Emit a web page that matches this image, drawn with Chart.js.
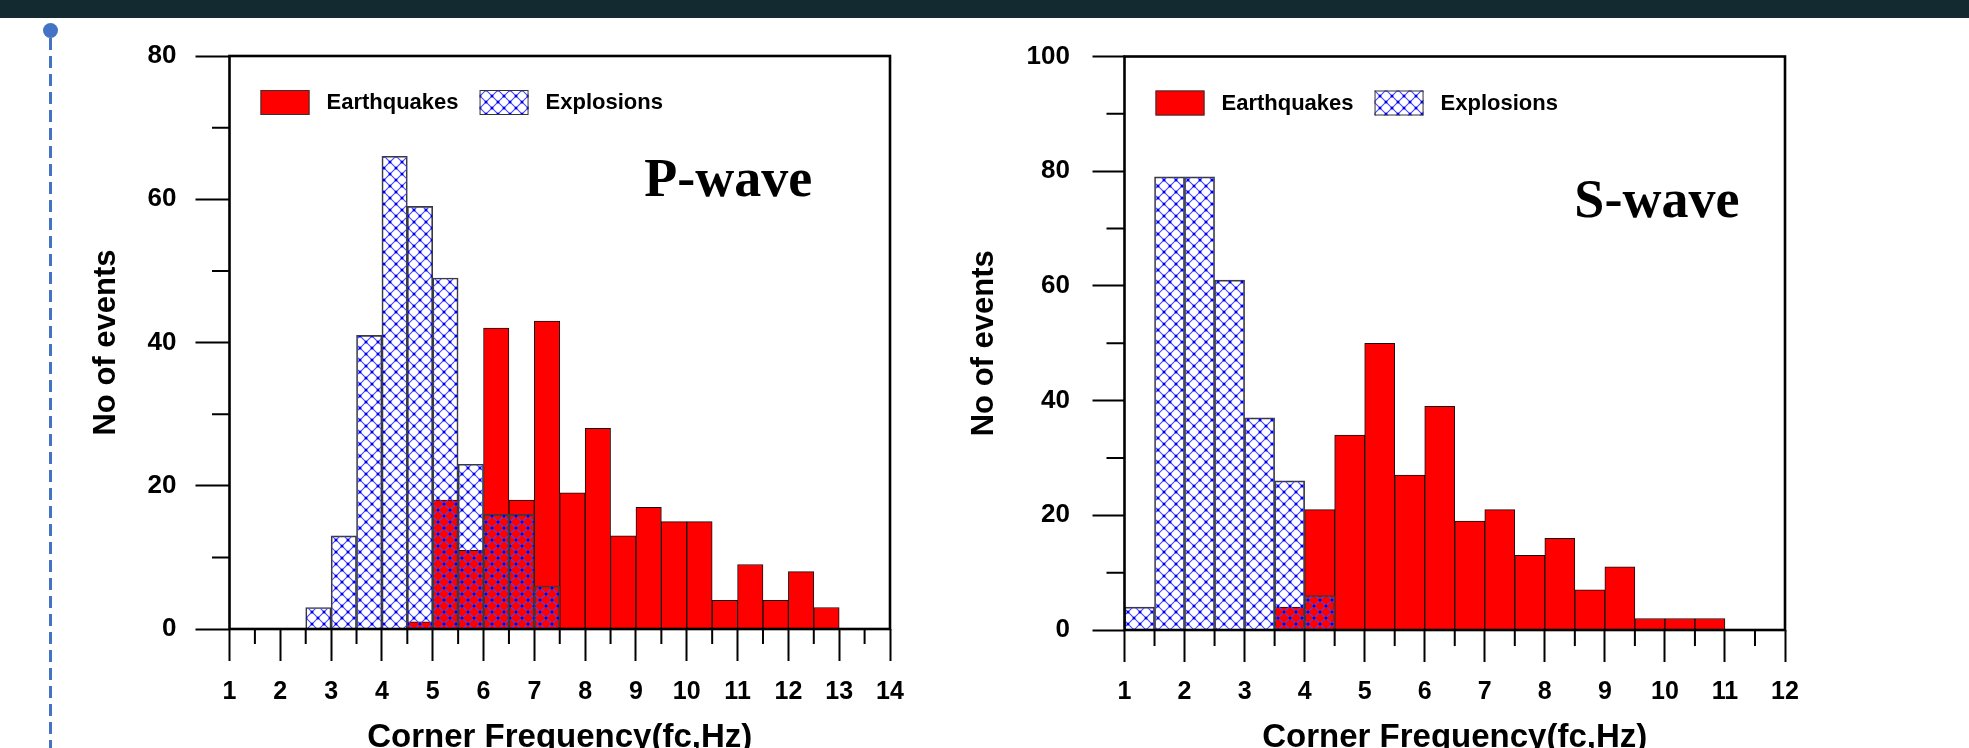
<!DOCTYPE html>
<html>
<head>
<meta charset="utf-8">
<title>Corner frequency histograms</title>
<script src="https://cdn.jsdelivr.net/npm/chart.js@4.4.1/dist/chart.umd.min.js"></script>
<style>
  html, body { margin: 0; padding: 0; background: #ffffff; width: 1969px; height: 748px; overflow: hidden; }
  #topbar { position: absolute; left: 0; top: 0; width: 1969px; height: 18px; background: #132a30; }
  #dot { position: absolute; left: 42.5px; top: 22.5px; width: 15px; height: 15px; border-radius: 50%; background: #4472c4; }
  #rail { position: absolute; left: 49px; top: 38px; width: 2.5px; height: 720px;
          background: repeating-linear-gradient(to bottom, #4472c4 0 12px, transparent 12px 18px); }
  .panel { position: absolute; top: 0; }
  #panelP { left: 0; }
  #panelS { left: 960px; }
</style>
</head>
<body>
<div id="topbar"></div>
<div id="dot"></div>
<div id="rail"></div>
<canvas id="panelP" class="panel" width="960" height="790"></canvas>
<canvas id="panelS" class="panel" width="1009" height="790"></canvas>
<script>
// ---- P-wave: 0.5 Hz bins, lower edges from 1.0 to 13.5 Hz ----
const pBinStarts = [1.0, 1.5, 2.0, 2.5, 3.0, 3.5, 4.0, 4.5, 5.0, 5.5, 6.0, 6.5, 7.0,
                    7.5, 8.0, 8.5, 9.0, 9.5, 10.0, 10.5, 11.0, 11.5, 12.0, 12.5, 13.0, 13.5];
const pEarthquakes = [0, 0, 0, 0, 0, 0, 0, 1, 18, 11, 42, 18, 43,
                      19, 28, 13, 17, 15, 15, 4, 9, 4, 8, 3, 0, 0];
const pExplosions  = [0, 0, 0, 3, 13, 41, 66, 59, 49, 23, 16, 16, 6,
                      0, 0, 0, 0, 0, 0, 0, 0, 0, 0, 0, 0, 0];
const pXTicks = [1, 2, 3, 4, 5, 6, 7, 8, 9, 10, 11, 12, 13, 14];
const pYTicks = [0, 20, 40, 60, 80];

// ---- S-wave: 0.5 Hz bins, lower edges from 1.0 to 11.5 Hz ----
const sBinStarts = [1.0, 1.5, 2.0, 2.5, 3.0, 3.5, 4.0, 4.5, 5.0, 5.5, 6.0,
                    6.5, 7.0, 7.5, 8.0, 8.5, 9.0, 9.5, 10.0, 10.5, 11.0, 11.5];
const sEarthquakes = [0, 0, 0, 0, 0, 4, 21, 34, 50, 27, 39,
                      19, 21, 13, 16, 7, 11, 2, 2, 2, 0, 0];
const sExplosions  = [4, 79, 79, 61, 37, 26, 6, 0, 0, 0, 0,
                      0, 0, 0, 0, 0, 0, 0, 0, 0, 0, 0];
const sXTicks = [1, 2, 3, 4, 5, 6, 7, 8, 9, 10, 11, 12];
const sYTicks = [0, 20, 40, 60, 80, 100];

const BIN_WIDTH = 0.5;
const SANS = "'Liberation Sans', Arial, sans-serif";
const SERIF = "'Liberation Serif', 'Times New Roman', serif";

// Blue cross-hatch used for the explosion bars
function makeCrossHatch() {
  const s = 12;
  const c = document.createElement('canvas');
  c.width = s; c.height = s;
  const g = c.getContext('2d');
  g.strokeStyle = '#4646ff';
  g.lineWidth = 1.1;
  g.beginPath();
  g.moveTo(0, 0); g.lineTo(s, s);
  g.moveTo(s, 0); g.lineTo(0, s);
  g.stroke();
  g.fillStyle = '#0000e6';
  const dots = [[s / 2, s / 2], [0, 0], [s, 0], [0, s], [s, s]];
  dots.forEach(([x, y]) => { g.beginPath(); g.arc(x, y, 1.5, 0, Math.PI * 2); g.fill(); });
  return g.createPattern(c, 'repeat');
}
const hatch = makeCrossHatch();

function toPoints(starts, counts) {
  return starts.map((x0, i) => ({ x: x0 + BIN_WIDTH / 2, y: counts[i] === 0 ? null : counts[i] }));
}

// Frame, minor ticks, inset legend and panel caption
const panelDecor = {
  id: 'panelDecor',
  afterDatasetsDraw(chart, args, o) {
    const { ctx, chartArea: a, scales } = chart;
    ctx.save();
    // minor ticks
    ctx.strokeStyle = '#000';
    ctx.lineWidth = 2;
    ctx.beginPath();
    scales.x.ticks.forEach(t => {
      if (o.xMajor.includes(t.value)) return;
      const px = scales.x.getPixelForValue(t.value);
      ctx.moveTo(px, a.bottom); ctx.lineTo(px, a.bottom + o.xMinorLen);
    });
    scales.y.ticks.forEach(t => {
      if (o.yMajor.includes(t.value)) return;
      const py = scales.y.getPixelForValue(t.value);
      ctx.moveTo(a.left - o.yMinorLen, py); ctx.lineTo(a.left, py);
    });
    ctx.stroke();
    // plot frame
    ctx.lineWidth = 2.6;
    ctx.strokeRect(a.left, a.top, a.right - a.left, a.bottom - a.top);
    // legend inside the frame
    let x = a.left + o.legendDx;
    const top = a.top + o.legendDy;
    ctx.font = 'bold 22px ' + SANS;
    ctx.textBaseline = 'middle';
    ctx.textAlign = 'left';
    chart.data.datasets.forEach(ds => {
      ctx.fillStyle = '#ffffff';
      ctx.fillRect(x, top, 49, 25);
      ctx.fillStyle = ds.backgroundColor;
      ctx.fillRect(x, top, 49, 25);
      ctx.lineWidth = 1;
      ctx.strokeStyle = '#333';
      ctx.strokeRect(x + 0.5, top + 0.5, 48, 24);
      x += 49 + 17;
      ctx.fillStyle = '#000';
      ctx.fillText(ds.label, x, top + 13);
      x += ctx.measureText(ds.label).width + 21;
    });
    // panel caption
    ctx.font = 'bold 54px ' + SERIF;
    ctx.textAlign = 'center';
    ctx.textBaseline = 'alphabetic';
    ctx.fillStyle = '#000';
    ctx.fillText(o.caption,
      a.left + o.captionFx * (a.right - a.left),
      a.top + o.captionFy * (a.bottom - a.top));
    ctx.restore();
  }
};

function buildPanel(canvasId, cfg) {
  const majorColor = (list) => (c) => list.includes(c.tick.value) ? '#000' : 'rgba(0,0,0,0)';
  return new Chart(document.getElementById(canvasId), {
    type: 'bar',
    data: {
      datasets: [
        {
          label: 'Earthquakes',
          data: toPoints(cfg.bins, cfg.quakes),
          backgroundColor: '#ff0000',
          borderColor: '#111',
          borderWidth: 1,
          order: 2
        },
        {
          label: 'Explosions',
          data: toPoints(cfg.bins, cfg.blasts),
          backgroundColor: hatch,
          borderColor: '#3a3a3a',
          borderWidth: 1,
          order: 1
        }
      ]
    },
    options: {
      responsive: false,
      animation: false,
      devicePixelRatio: 1,
      layout: { padding: { top: cfg.padTop, right: cfg.padRight, left: 0, bottom: 0 } },
      datasets: { bar: { grouped: false, barPercentage: 1, categoryPercentage: 1 } },
      plugins: {
        legend: { display: false },
        tooltip: { enabled: false },
        panelDecor: {
          xMajor: cfg.xTicks, yMajor: cfg.yTicks,
          xMinorLen: cfg.xMinorLen, yMinorLen: cfg.yMinorLen,
          legendDx: 31, legendDy: 34,
          caption: cfg.caption, captionFx: cfg.captionFx, captionFy: cfg.captionFy
        }
      },
      scales: {
        x: {
          type: 'linear',
          offset: false,
          min: cfg.xTicks[0],
          max: cfg.xTicks[cfg.xTicks.length - 1],
          afterFit: (s) => { s.height = cfg.xAxisHeight; },
          border: { display: false },
          grid: { display: true, offset: false, drawOnChartArea: false, drawTicks: true,
                  tickLength: cfg.xTickLen, tickWidth: 2, tickColor: majorColor(cfg.xTicks) },
          ticks: {
            stepSize: BIN_WIDTH, autoSkip: false, maxRotation: 0, minRotation: 0,
            padding: cfg.xLabelPad, color: '#000',
            font: { family: SANS, size: 25, weight: 'bold' },
            callback: (v) => cfg.xTicks.includes(v) ? String(v) : ''
          },
          title: {
            display: true, text: 'Corner Frequency(fc,Hz)', color: '#000',
            font: { family: SANS, size: 33, weight: 'bold' },
            padding: { top: 0, bottom: cfg.xTitlePad }
          }
        },
        y: {
          min: 0,
          max: cfg.yTicks[cfg.yTicks.length - 1],
          afterFit: (s) => { s.width = cfg.yAxisWidth; },
          border: { display: false },
          grid: { display: true, drawOnChartArea: false, drawTicks: true,
                  tickLength: cfg.yTickLen, tickWidth: 2, tickColor: majorColor(cfg.yTicks) },
          ticks: {
            stepSize: 10, autoSkip: false, padding: cfg.yLabelPad, color: '#000',
            font: { family: SANS, size: 26, weight: 'bold' },
            callback: (v) => cfg.yTicks.includes(v) ? String(v) : ''
          },
          title: {
            display: true, text: 'No of events', color: '#000',
            font: { family: SANS, size: 31, weight: 'bold' },
            padding: { top: cfg.yTitlePad, bottom: 0 }
          }
        }
      }
    },
    plugins: [panelDecor]
  });
}

buildPanel('panelP', {
  bins: pBinStarts, quakes: pEarthquakes, blasts: pExplosions,
  xTicks: pXTicks, yTicks: pYTicks, caption: 'P-wave',
  padTop: 56, padRight: 70, yAxisWidth: 229.5, xAxisHeight: 161,
  xTickLen: 32, yTickLen: 34, xMinorLen: 15, yMinorLen: 17.5,
  xLabelPad: 16, yLabelPad: 19, xTitlePad: 32.7, yTitlePad: 88,
  captionFx: 0.755, captionFy: 0.244
});

buildPanel('panelS', {
  bins: sBinStarts, quakes: sEarthquakes, blasts: sExplosions,
  xTicks: sXTicks, yTicks: sYTicks, caption: 'S-wave',
  padTop: 56.5, padRight: 184, yAxisWidth: 164.5, xAxisHeight: 160,
  xTickLen: 32, yTickLen: 32, xMinorLen: 16, yMinorLen: 18,
  xLabelPad: 15, yLabelPad: 22.5, xTitlePad: 32.7, yTitlePad: 5.9,
  captionFx: 0.806, captionFy: 0.28
});
</script>
</body>
</html>
